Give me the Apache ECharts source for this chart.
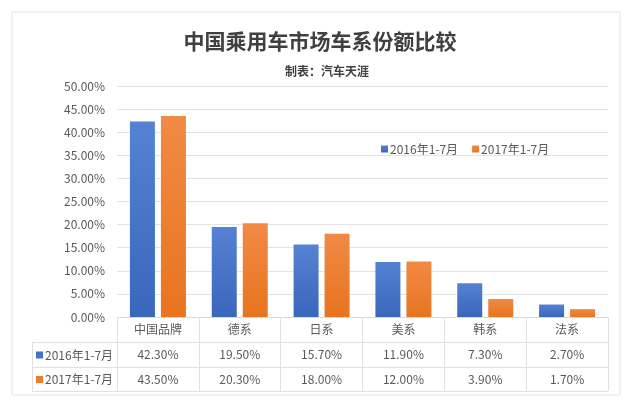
<!DOCTYPE html>
<html><head><meta charset="utf-8">
<script src="https://cdn.jsdelivr.net/npm/echarts@6/dist/echarts.min.js"></script>
<style>html,body{margin:0;padding:0;background:#fff}#c{width:640px;height:404px}</style>
</head><body><div id="c"></div>
<script>
var categories = ['中国品牌','德系','日系','美系','韩系','法系'];
var seriesNames = ['2016年1-7月','2017年1-7月'];
var values2016 = [42.3, 19.5, 15.7, 11.9, 7.3, 2.7];
var values2017 = [43.5, 20.3, 18.0, 12.0, 3.9, 1.7];
var yTicks = [0, 5, 10, 15, 20, 25, 30, 35, 40, 45, 50];

var FONT = '"Noto Sans CJK SC","Noto Sans",sans-serif';
var blue = '#4472C4', orange = '#ED7D31';
var pct = function(v){ return v.toFixed(2) + '%'; };

var chart = echarts.init(document.getElementById('c'), null, {renderer:'canvas'});
var gridL = 117, gridR = 32, gridT = 86, gridB = 87;

function grad(top, bottom){
  return new echarts.graphic.LinearGradient(0,0,0,1,[{offset:0,color:top},{offset:1,color:bottom}]);
}
var tableLeft = 32, tableRight = 640 - gridR;
var rowLines = [342, 367, 391];
var graphics = [
  {type:'rect', shape:{x:12,y:12,width:608,height:383}, style:{fill:'none', stroke:'#e4e4e4', lineWidth:1}, z:-10},
];
rowLines.forEach(function(y){
  graphics.push({type:'line', shape:{x1:tableLeft,y1:y+0.5,x2:tableRight,y2:y+0.5}, style:{stroke:'#e0e0e0',lineWidth:1}});
});
graphics.push({type:'line', shape:{x1:tableLeft+0.5,y1:rowLines[0],x2:tableLeft+0.5,y2:rowLines[2]}, style:{stroke:'#e0e0e0',lineWidth:1}});
var rowColors = [blue, orange];
seriesNames.forEach(function(n, i){
  var cy = (rowLines[i] + rowLines[i+1]) / 2 + 0.5;
  graphics.push({type:'rect', shape:{x:36, y:cy-3.5, width:7, height:7}, style:{fill:rowColors[i]}});
  graphics.push({type:'text', style:{x:45, y:cy, text:n, fill:'#595959', font:'12px ' + FONT, textVerticalAlign:'middle'}});
});

var rowValues = [values2016, values2017];
var xAxes = [{
  type:'category', data:categories, gridIndex:0, position:'bottom',
  axisLine:{lineStyle:{color:'#d9d9d9'}},
  axisTick:{show:true, length:74, lineStyle:{color:'#e0e0e0'}},
  axisLabel:{color:'#595959', fontSize:12, fontFamily:FONT, margin:6}
}];
rowValues.forEach(function(vals, r){
  xAxes.push({
    type:'category', data:categories, gridIndex:0, position:'bottom', offset:25*(r+1)+0,
    axisLine:{show:false}, axisTick:{show:false},
    axisLabel:{color:'#595959', fontSize:12, fontFamily:FONT, margin:6,
      formatter:function(v, idx){ return pct(vals[idx]); }}
  });
});

chart.setOption({
  animation:false,
  backgroundColor:'#fff',
  title:[
    {text:'中国乘用车市场车系份额比较', left:'center', top:26,
     textStyle:{fontSize:21, fontWeight:'bold', color:'#404040', fontFamily:FONT}},
    {text:'制表：汽车天涯', left:322, top:60, textAlign:'center',
     textStyle:{fontSize:12, fontWeight:'bold', color:'#404040', fontFamily:FONT}}
  ],
  legend:{data:seriesNames, left:376, top:138, itemWidth:7, itemHeight:7, itemGap:14,
    icon:'rect', textStyle:{color:'#595959', fontSize:12, fontFamily:FONT, padding:[0,0,0,-3]}},
  grid:{left:gridL, right:gridR, top:gridT, bottom:gridB, containLabel:false},
  xAxis:xAxes,
  yAxis:{type:'value', min:yTicks[0], max:yTicks[yTicks.length-1], interval:yTicks[1]-yTicks[0],
    axisLine:{show:false}, axisTick:{show:false},
    splitLine:{lineStyle:{color:'#e3e3e3'}},
    axisLabel:{color:'#595959', fontSize:12, fontFamily:FONT, margin:12, formatter:function(v){return pct(v);}}},
  series:[
    {name:seriesNames[0], type:'bar', data:values2016, barWidth:25, barGap:'24%',
     itemStyle:{color:grad('#5582D2', '#3A66BC')}},
    {name:seriesNames[1], type:'bar', data:values2017, barWidth:25,
     itemStyle:{color:grad('#F08A45', '#E8741F')}}
  ],
  graphic:graphics
});
</script></body></html>
